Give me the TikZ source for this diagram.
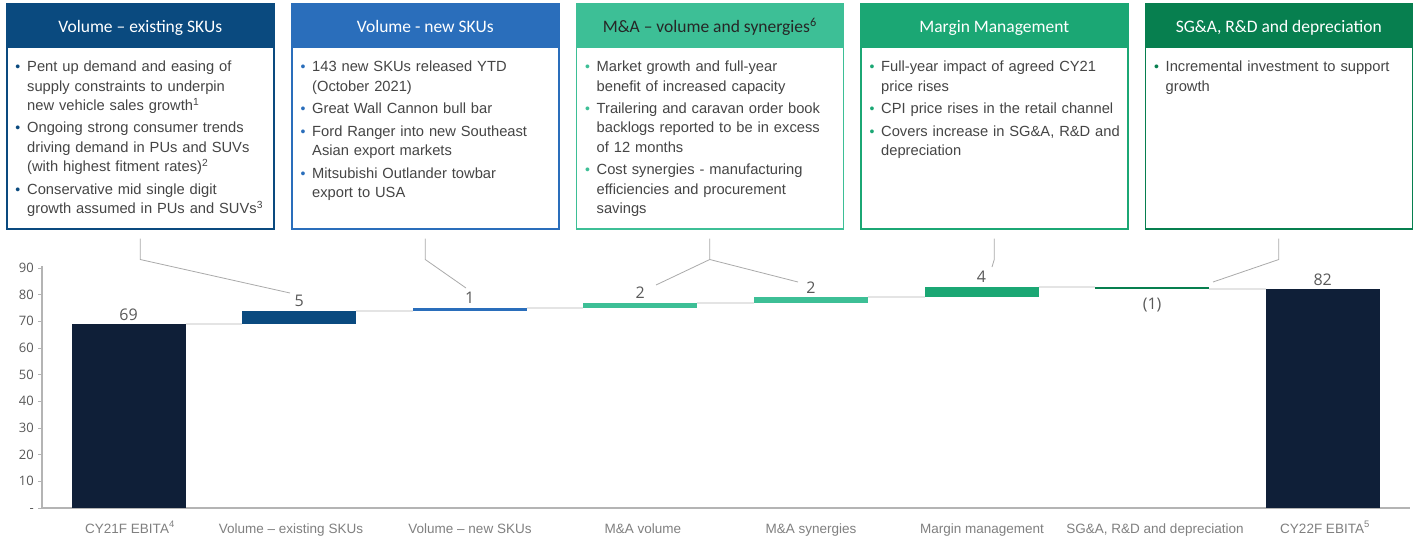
\documentclass[tikz,border=0pt]{standalone}
\usepackage{fontspec}
\setmainfont{Liberation Sans}
\newfontfamily\hdfont{Carlito}
\newfontfamily\numfont{Open Sans}
\definecolor{hdA}{HTML}{0A4A7F}
\definecolor{hdB}{HTML}{2A6EBB}
\definecolor{hdC}{HTML}{3DBF96}
\definecolor{hdD}{HTML}{1BA774}
\definecolor{hdE}{HTML}{077F4F}
\definecolor{navybar}{HTML}{0F1F38}
\definecolor{bodytxt}{HTML}{454545}
\definecolor{numtxt}{HTML}{595959}
\definecolor{cattxt}{HTML}{808080}
\definecolor{axisgray}{HTML}{B4B4B4}
\definecolor{linkgray}{HTML}{E4E4E4}
\definecolor{callgray}{HTML}{AAAAAA}
\definecolor{darkhd}{HTML}{262626}
\newcommand\supr[1]{\textsuperscript{#1}}
\newcommand\bcol{hdA}
\newcommand\nl{\hfil\break}
\newcommand\itm[1]{\hangindent=12pt\hangafter=1\noindent\makebox[12pt][l]{\hspace{0.3pt}\textcolor{\bcol}{\fontsize{14}{14}\selectfont •}}#1\par}
\newcommand\gap{\vskip3.5pt}
\tikzset{
  panelbox/.style={draw, line width=1.5pt, minimum width=267pt, minimum height=225pt, inner sep=0pt},
  hdtext/.style={font=\hdfont\fontsize{17.5}{20}\selectfont, inner sep=0pt},
  bodytext/.style={font=\fontsize{14.7}{19.2}\selectfont, text=bodytxt, text width=256pt, inner sep=0pt, anchor=north west},
  ticklab/.style={font=\numfont\fontsize{13}{14}\selectfont, text=numtxt, inner sep=0pt, anchor=base east},
  vallab/.style={font=\numfont\fontsize{16}{18}\selectfont, text=numtxt, inner sep=0pt, anchor=base},
  catlab/.style={font=\fontsize{13.5}{16}\selectfont, text=cattxt, inner sep=0pt, anchor=base},
  axisline/.style={draw=axisgray, line width=1.5pt},
  linkline/.style={draw=linkgray, line width=1.8pt},
  callout/.style={draw=callgray, line width=0.8pt},
}
\newcommand\panel[6]{%
  \fill[#3] (#2,3) rectangle ++(267,45);
  \node[panelbox, draw=#3, anchor=north west] (#1) at (#2,3) {};
  \node[hdtext, text=#4, anchor=base] (#1h) at ([yshift=-29.5pt]#1.north) {#5};
  \node[bodytext] (#1t) at ([xshift=9pt,yshift=-58pt]#1.north west) {\renewcommand\bcol{#3}\parindent=0pt\raggedright #6};
}
\begin{document}
\begin{tikzpicture}[x=1pt,y=-1pt]
\useasboundingbox (0,0) rectangle (1417,539);
\fill[white] (0,0) rectangle (1417,539);

% ---- panels ----
\panel{b1}{6}{hdA}{white}{Volume – existing SKUs}{%
\itm{Pent up demand and easing of\nl supply constraints to underpin\nl new vehicle sales growth\supr{1}}\gap
\itm{Ongoing strong consumer trends\nl driving demand in PUs and SUVs\nl (with highest fitment rates)\supr{2}}\gap
\itm{Conservative mid single digit\nl growth assumed in PUs and SUVs\supr{3}}}
\panel{b2}{291}{hdB}{white}{Volume - new SKUs}{%
\itm{143 new SKUs released YTD\nl (October 2021)}\gap
\itm{Great Wall Cannon bull bar}\gap
\itm{Ford Ranger into new Southeast\nl Asian export markets}\gap
\itm{Mitsubishi Outlander towbar\nl export to USA}}
\panel{b3}{575.5}{hdC}{darkhd}{M\&A – volume and synergies\supr{6}}{%
\itm{Market growth and full-year\nl benefit of increased capacity}\gap
\itm{Trailering and caravan order book\nl backlogs reported to be in excess\nl of 12 months}\gap
\itm{Cost synergies - manufacturing\nl efficiencies and procurement\nl savings}}
\panel{b4}{860}{hdD}{white}{Margin Management}{%
\itm{Full-year impact of agreed CY21\nl price rises}\gap
\itm{CPI price rises in the retail channel}\gap
\itm{Covers increase in SG\&A, R\&D and\nl depreciation}}
\panel{b5}{1144.5}{hdE}{white}{SG\&A, R\&D and depreciation}{%
\itm{Incremental investment to support\nl growth}}

% ---- axes ----
\draw[axisline] (42,266) -- (42,508) -- (1410,508);
\foreach \v in {0,10,...,90} \draw[axisline, line width=1pt] (38,{508-\v*2.6667}) -- (42,{508-\v*2.6667});
\foreach \v in {10,20,...,90} \node[ticklab] (t\v) at (34,{508-\v*2.6667+4.5}) {\v};
\node[ticklab] (t0) at (34,512.5) {-};

% ---- bars ----
\fill[navybar] (71.5,324) rectangle (185.5,508);
\fill[hdA] (242.1,310.67) rectangle (356.1,324);
\fill[hdB] (412.7,308) rectangle (526.7,310.67);
\fill[hdC] (583.3,302.67) rectangle (697.3,308);
\fill[hdC] (753.9,297.33) rectangle (867.9,302.67);
\fill[hdD] (924.5,286.67) rectangle (1038.5,297.33);
\fill[hdE] (1095.1,286.67) rectangle (1209.1,289.33);
\fill[navybar] (1265.7,289.33) rectangle (1379.7,508);

% ---- links ----
\draw[linkline] (185.5,324) -- (242.1,324);
\draw[linkline] (356.1,310.67) -- (412.7,310.67);
\draw[linkline] (526.7,308) -- (583.3,308);
\draw[linkline] (697.3,302.67) -- (753.9,302.67);
\draw[linkline] (867.9,297.33) -- (924.5,297.33);
\draw[linkline] (1038.5,286.67) -- (1095.1,286.67);
\draw[linkline] (1209.1,289.33) -- (1265.7,289.33);

% ---- value labels ----
\node[vallab] (v0) at (128.5,320) {69};
\node[vallab] (v1) at (299.1,306) {5};
\node[vallab] (v2) at (469.7,303.5) {1};
\node[vallab] (v3) at (640.3,298.5) {2};
\node[vallab] (v4) at (810.9,293) {2};
\node[vallab] (v5) at (981.5,282.5) {4};
\node[vallab] (v6) at (1152.1,309) {(1)};
\node[vallab] (v7) at (1322.7,285.5) {82};

% ---- category labels ----
\node[catlab] (c0) at (130,533) {CY21F EBITA\supr{4}};
\node[catlab] (c1) at (291,533) {Volume – existing SKUs};
\node[catlab] (c2) at (470,533) {Volume – new SKUs};
\node[catlab] (c3) at (643,533) {M\&A volume};
\node[catlab] (c4) at (811,533) {M\&A synergies};
\node[catlab] (c5) at (982,533) {Margin management};
\node[catlab] (c6) at (1155,533) {SG\&A, R\&D and depreciation};
\node[catlab] (c7) at (1325,533) {CY22F EBITA\supr{5}};

% ---- callouts ----
\coordinate (e1) at (290,293);
\coordinate (e2) at (466,288);
\coordinate (e3a) at (656,285);
\coordinate (e3b) at (798,282);
\coordinate (e4) at (992,267);
\coordinate (e5) at (1213,282);
\draw[callout] ([yshift=-9pt]b1.south) -- ++(0,21) -- (e1);
\draw[callout] ([yshift=-9pt]b2.south) -- ++(0,21) -- (e2);
\draw[callout] ([yshift=-9pt]b3.south) -- ++(0,21) coordinate (k3) -- (e3a);
\draw[callout] (k3) -- (e3b);
\draw[callout] ([yshift=-9pt]b4.south) -- ++(0,21) -- (e4);
\draw[callout] ([yshift=-9pt]b5.south) -- ++(0,21) -- (e5);
\end{tikzpicture}
\end{document}
